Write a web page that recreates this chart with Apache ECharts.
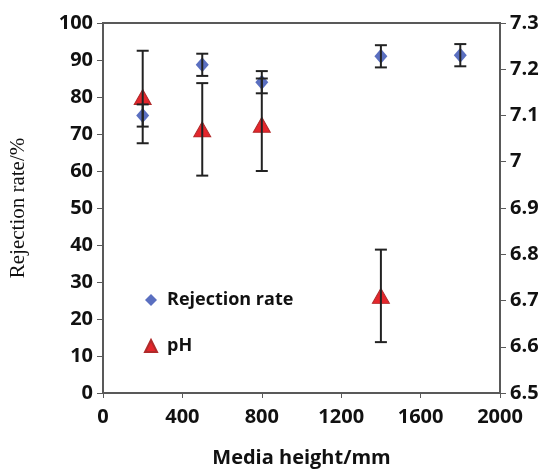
<!DOCTYPE html>
<html>
<head>
<meta charset="utf-8">
<script src="https://cdn.jsdelivr.net/npm/echarts@6/dist/echarts.min.js"></script>
<style>
  html, body { margin: 0; padding: 0; background: #fff; }
  #chart { width: 552px; height: 473px; }
</style>
</head>
<body>
<div id="chart"></div>
<script>
// media height (mm)
const heights = [200, 500, 800, 1400, 1800];
const rejection = [75.0, 88.7, 84.0, 91.0, 91.3];
const rejectionErr = [3, 3, 3, 3, 3];

const phHeights = [200, 500, 800, 1400];
const ph = [7.14, 7.07, 7.08, 6.71];
const phErr = [0.1, 0.1, 0.1, 0.1];

const xTicks = [0, 400, 800, 1200, 1600, 2000];

const axisColor = '#595959';
const labelFont = { color: '#111', fontSize: 20, fontWeight: 'bold', fontFamily: 'Open Sans' };

function errData(xs, ys, es) {
  return xs.map((x, i) => [x, ys[i] - es[i], ys[i] + es[i]]);
}

function renderErr(params, api) {
  const lo = api.coord([api.value(0), api.value(1)]);
  const hi = api.coord([api.value(0), api.value(2)]);
  const w = 6;
  const st = { stroke: '#222', lineWidth: 2 };
  return {
    type: 'group',
    children: [
      { type: 'line', shape: { x1: lo[0], y1: lo[1], x2: hi[0], y2: hi[1] }, style: st },
      { type: 'line', shape: { x1: lo[0] - w, y1: lo[1], x2: lo[0] + w, y2: lo[1] }, style: st },
      { type: 'line', shape: { x1: hi[0] - w, y1: hi[1], x2: hi[0] + w, y2: hi[1] }, style: st }
    ]
  };
}

const chart = echarts.init(document.getElementById('chart'));
chart.setOption({
  animation: false,
  backgroundColor: '#fff',
  grid: {
    left: 98, right: 52, top: 23, bottom: 69,
    show: true, borderColor: axisColor, borderWidth: 2
  },
  legend: {
    orient: 'vertical',
    left: 139,
    top: 286,
    itemGap: 28,
    itemWidth: 12,
    itemHeight: 12,
    textStyle: { color: '#111', fontSize: 18, fontWeight: 'bold', fontFamily: 'Open Sans', padding: [0, 0, 0, 5] },
    data: [
      { name: 'Rejection rate', icon: 'diamond' },
      { name: 'pH', icon: 'triangle' }
    ]
  },
  xAxis: {
    type: 'value',
    min: 0, max: 2000, interval: 400,
    name: 'Media height/mm',
    nameLocation: 'middle',
    nameGap: 55,
    nameTextStyle: { color: '#111', fontSize: 20, fontWeight: 'bold', fontFamily: 'Open Sans' },
    axisLine: { lineStyle: { color: axisColor, width: 2 } },
    axisTick: { show: true, length: 5, lineStyle: { color: axisColor } },
    axisLabel: Object.assign({ margin: 14, formatter: v => xTicks.includes(v) ? String(v) : '' }, labelFont),
    splitLine: { show: false }
  },
  yAxis: [
    {
      type: 'value',
      min: 0, max: 100, interval: 10,
      name: 'Rejection rate/%',
      nameLocation: 'middle',
      nameGap: 74,
      nameTextStyle: { color: '#111', fontSize: 21, fontFamily: 'Liberation Serif' },
      axisLine: { show: true, lineStyle: { color: axisColor, width: 2 } },
      axisTick: { show: true, length: 6, lineStyle: { color: axisColor } },
      axisLabel: Object.assign({ margin: 10 }, labelFont),
      splitLine: { show: false }
    },
    {
      type: 'value',
      position: 'right',
      min: 6.5, max: 7.3, interval: 0.1,
      axisLine: { show: true, lineStyle: { color: axisColor, width: 2 } },
      axisTick: { show: true, length: 6, lineStyle: { color: axisColor } },
      axisLabel: Object.assign({ margin: 10, formatter: v => String(Math.round(v * 10) / 10) }, labelFont),
      splitLine: { show: false }
    }
  ],
  series: [
    {
      name: 'Rejection rate',
      type: 'scatter',
      yAxisIndex: 0,
      symbol: 'diamond',
      symbolSize: [13, 15],
      itemStyle: { color: '#5A6FC0', opacity: 1 },
      data: heights.map((x, i) => [x, rejection[i]]),
      z: 2
    },
    {
      name: 'pH',
      type: 'scatter',
      yAxisIndex: 1,
      symbol: 'triangle',
      symbolSize: [17, 15],
      itemStyle: { color: '#E4262C', borderColor: '#B02A2A', borderWidth: 1, opacity: 1 },
      data: phHeights.map((x, i) => [x, ph[i]]),
      z: 2
    },
    {
      type: 'custom',
      yAxisIndex: 0,
      renderItem: renderErr,
      data: errData(heights, rejection, rejectionErr),
      encode: { x: 0, y: [1, 2] },
      z: 5
    },
    {
      type: 'custom',
      yAxisIndex: 1,
      renderItem: renderErr,
      data: errData(phHeights, ph, phErr),
      encode: { x: 0, y: [1, 2] },
      z: 5
    }
  ]
});
</script>
</body>
</html>
